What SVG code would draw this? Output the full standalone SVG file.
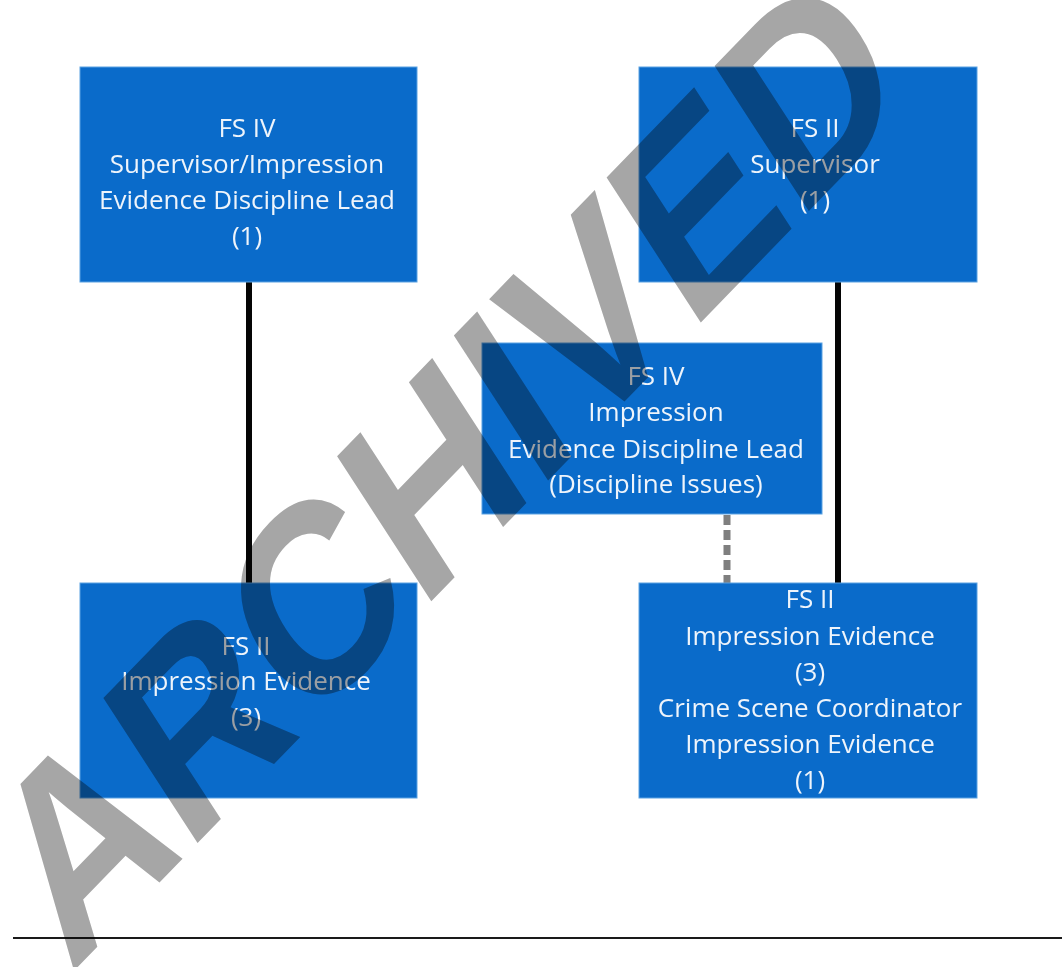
<svg xmlns="http://www.w3.org/2000/svg" width="1062" height="967" viewBox="0 0 1062 967">
  <style>
    .box { fill: #0a6bca; stroke: #5aa2e2; stroke-width: 1; }
    .lbl { font-family: "Open Sans", "Liberation Sans", sans-serif; font-size: 26px; fill: #eef4fb; text-anchor: middle; }
    .solid { stroke: #050505; stroke-width: 6; fill: none; }
    .dash { stroke: #7f7f7f; stroke-width: 7; stroke-dasharray: 10 5; fill: none; }
    .wm { font-family: "Liberation Sans", Arial, sans-serif; font-weight: bold; font-size: 240px; fill: #a6a6a6; mix-blend-mode: multiply; }
  </style>
  <rect width="1062" height="967" fill="#ffffff"/>
  <g id="connectors">
    <line class="solid" x1="249" y1="281" x2="249" y2="584"/>
    <line class="solid" x1="838" y1="281" x2="838" y2="584"/>
    <line class="dash" x1="727" y1="515" x2="727" y2="584"/>
  </g>
  <g id="node-fs4-supervisor">
    <rect class="box" x="80" y="67" width="337" height="215"/>
    <text class="lbl" x="247" y="137">FS IV</text>
    <text class="lbl" x="247" y="173">Supervisor/Impression</text>
    <text class="lbl" x="247" y="209">Evidence Discipline Lead</text>
    <text class="lbl" x="247" y="245">(1)</text>
  </g>
  <g id="node-fs2-supervisor">
    <rect class="box" x="639" y="67" width="338" height="215"/>
    <text class="lbl" x="815" y="137">FS II</text>
    <text class="lbl" x="815" y="173">Supervisor</text>
    <text class="lbl" x="815" y="209">(1)</text>
  </g>
  <g id="node-fs4-lead">
    <rect class="box" x="482" y="343" width="340" height="171"/>
    <text class="lbl" x="656" y="385">FS IV</text>
    <text class="lbl" x="656" y="421">Impression</text>
    <text class="lbl" x="656" y="458">Evidence Discipline Lead</text>
    <text class="lbl" x="656" y="493">(Discipline Issues)</text>
  </g>
  <g id="node-fs2-left">
    <rect class="box" x="80" y="583" width="337" height="215"/>
    <text class="lbl" x="246" y="655">FS II</text>
    <text class="lbl" x="246" y="690">Impression Evidence</text>
    <text class="lbl" x="246" y="726">(3)</text>
  </g>
  <g id="node-fs2-right">
    <rect class="box" x="639" y="583" width="338" height="215"/>
    <text class="lbl" x="810" y="608">FS II</text>
    <text class="lbl" x="810" y="645">Impression Evidence</text>
    <text class="lbl" x="810" y="681">(3)</text>
    <text class="lbl" x="810" y="717">Crime Scene Coordinator</text>
    <text class="lbl" x="810" y="753">Impression Evidence</text>
    <text class="lbl" x="810" y="789">(1)</text>
  </g>
  <line x1="13" y1="938" x2="1062" y2="938" stroke="#1a1a1a" stroke-width="2"/>
  <text class="wm" transform="matrix(0.674 -0.697 0.570 0.878 70 975)" x="0" y="0">ARCHIVED</text>
</svg>
